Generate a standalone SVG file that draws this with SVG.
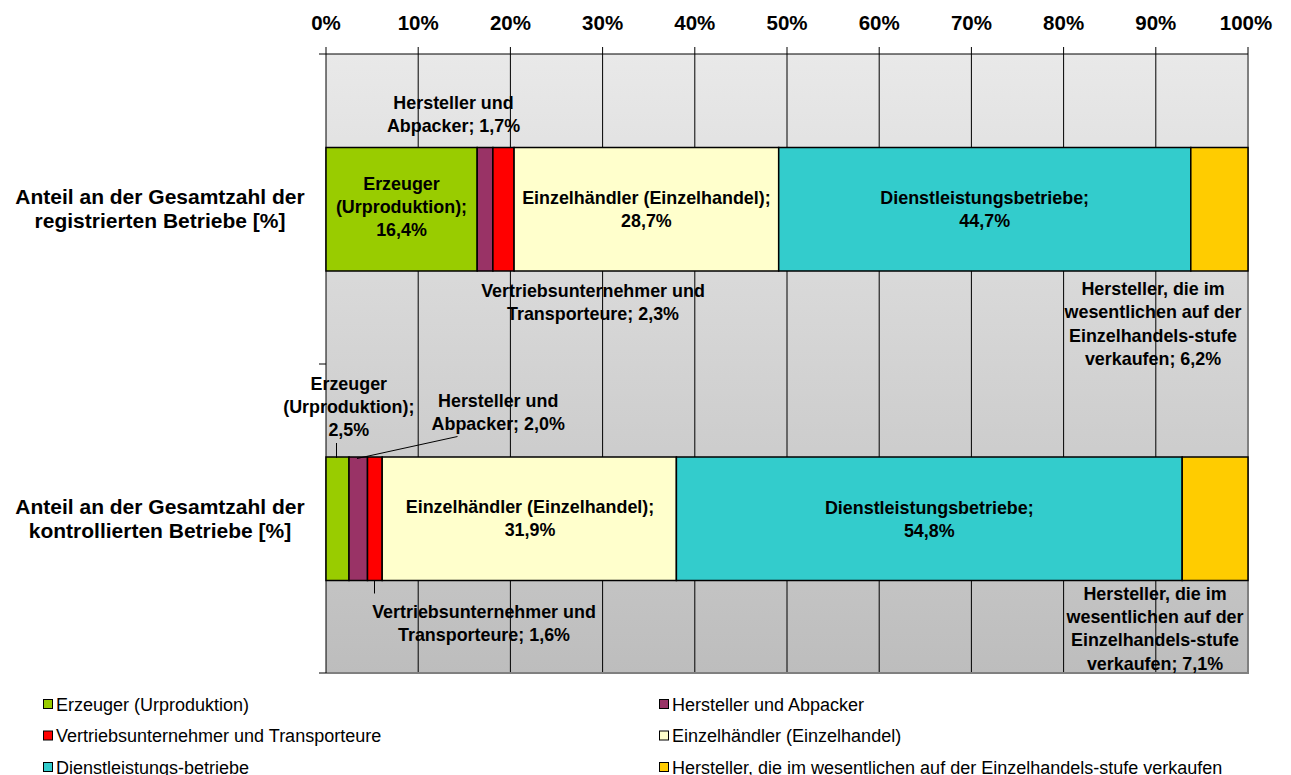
<svg xmlns="http://www.w3.org/2000/svg" width="1291" height="775" viewBox="0 0 1291 775">
<defs>
<linearGradient id="bg" x1="0" y1="0" x2="0" y2="1">
<stop offset="0" stop-color="#e9e9e9"/>
<stop offset="1" stop-color="#bdbdbd"/>
</linearGradient>
</defs>
<style>
text{font-family:"Liberation Sans",Arial,sans-serif;fill:#000}
.tick{font-size:20.5px;font-weight:bold;text-anchor:middle}
.cat{font-size:21px;font-weight:bold;text-anchor:middle}
.lbl{font-size:17.9px;font-weight:bold;text-anchor:middle}
.leg{font-size:18px}
.grid{stroke:#000;stroke-width:1}
.seg{stroke:#000;stroke-width:1.5}
.lsq{stroke:#000;stroke-width:1}
.lead{stroke:#000;stroke-width:1;fill:none}
.g{fill:#99cc00}.p{fill:#993366}.r{fill:#ff0000}.y{fill:#ffffcc}.t{fill:#33cccc}.o{fill:#ffcc00}
</style>
<rect width="1291" height="775" fill="#fff"/>
<g id="plot">
<rect x="326" y="54" width="922" height="619" fill="url(#bg)"/>
<g id="gridlines">
<line class="grid" x1="418.2" y1="54" x2="418.2" y2="673"/>
<line class="grid" x1="510.4" y1="54" x2="510.4" y2="673"/>
<line class="grid" x1="602.6" y1="54" x2="602.6" y2="673"/>
<line class="grid" x1="694.8" y1="54" x2="694.8" y2="673"/>
<line class="grid" x1="787" y1="54" x2="787" y2="673"/>
<line class="grid" x1="879.2" y1="54" x2="879.2" y2="673"/>
<line class="grid" x1="971.4" y1="54" x2="971.4" y2="673"/>
<line class="grid" x1="1063.6" y1="54" x2="1063.6" y2="673"/>
<line class="grid" x1="1155.8" y1="54" x2="1155.8" y2="673"/>
</g>
<polyline points="1248,54 1248,673 326,673" fill="none" stroke="#808080" stroke-width="2"/>
</g>
<g id="axes" stroke="#000" stroke-width="1">
<line x1="319" y1="54" x2="1248" y2="54"/>
<line x1="326" y1="54" x2="326" y2="673"/>
<line x1="319" y1="364" x2="326" y2="364"/>
<line x1="319" y1="673" x2="326" y2="673"/>
<line x1="326" y1="47" x2="326" y2="54"/>
<line x1="418.2" y1="47" x2="418.2" y2="54"/>
<line x1="510.4" y1="47" x2="510.4" y2="54"/>
<line x1="602.6" y1="47" x2="602.6" y2="54"/>
<line x1="694.8" y1="47" x2="694.8" y2="54"/>
<line x1="787" y1="47" x2="787" y2="54"/>
<line x1="879.2" y1="47" x2="879.2" y2="54"/>
<line x1="971.4" y1="47" x2="971.4" y2="54"/>
<line x1="1063.6" y1="47" x2="1063.6" y2="54"/>
<line x1="1155.8" y1="47" x2="1155.8" y2="54"/>
<line x1="1248" y1="47" x2="1248" y2="54"/>
</g>
<g id="tick-labels">
<text class="tick" x="326" y="29.5">0%</text>
<text class="tick" x="418.2" y="29.5">10%</text>
<text class="tick" x="510.4" y="29.5">20%</text>
<text class="tick" x="602.6" y="29.5">30%</text>
<text class="tick" x="694.8" y="29.5">40%</text>
<text class="tick" x="787" y="29.5">50%</text>
<text class="tick" x="879.2" y="29.5">60%</text>
<text class="tick" x="971.4" y="29.5">70%</text>
<text class="tick" x="1063.6" y="29.5">80%</text>
<text class="tick" x="1155.8" y="29.5">90%</text>
<text class="tick" x="1246" y="29.5">100%</text>
</g>
<g id="category-registriert">
<text class="cat" x="160" y="203.5">Anteil an der Gesamtzahl der</text>
<text class="cat" x="160" y="227.5">registrierten Betriebe [%]</text>
</g>
<g id="category-kontrolliert">
<text class="cat" x="160" y="513.5">Anteil an der Gesamtzahl der</text>
<text class="cat" x="160" y="537.5">kontrollierten Betriebe [%]</text>
</g>
<g id="bar-registriert">
<rect class="seg g" x="326" y="147.5" width="151.2" height="123.5"/>
<rect class="seg p" x="477.2" y="147.5" width="15.7" height="123.5"/>
<rect class="seg r" x="492.9" y="147.5" width="21.2" height="123.5"/>
<rect class="seg y" x="514.1" y="147.5" width="264.6" height="123.5"/>
<rect class="seg t" x="778.7" y="147.5" width="412.1" height="123.5"/>
<rect class="seg o" x="1190.8" y="147.5" width="57.2" height="123.5"/>
</g>
<g id="bar-kontrolliert">
<rect class="seg g" x="326" y="457" width="23" height="123.5"/>
<rect class="seg p" x="349" y="457" width="18.5" height="123.5"/>
<rect class="seg r" x="367.5" y="457" width="14.7" height="123.5"/>
<rect class="seg y" x="382.2" y="457" width="294.2" height="123.5"/>
<rect class="seg t" x="676.4" y="457" width="505.8" height="123.5"/>
<rect class="seg o" x="1182.2" y="457" width="65.8" height="123.5"/>
</g>
<g id="connectors">
<line class="lead" x1="336.5" y1="443" x2="336.5" y2="458"/>
<polyline class="lead" points="457.5,436.5 357,458.5"/>
<line class="lead" x1="374.5" y1="581" x2="374.5" y2="593.5"/>
</g>
<g id="labels-registriert">
<text class="lbl"><tspan x="453.5" y="108.5">Hersteller und</tspan><tspan x="453.5" y="131.5">Abpacker; 1,7%</tspan></text>
<text class="lbl"><tspan x="401.5" y="189.5">Erzeuger</tspan><tspan x="401.5" y="212.5">(Urproduktion);</tspan><tspan x="401.5" y="235.5">16,4%</tspan></text>
<text class="lbl"><tspan x="646.4" y="204">Einzelhändler (Einzelhandel);</tspan><tspan x="646.4" y="227">28,7%</tspan></text>
<text class="lbl"><tspan x="984.7" y="204">Dienstleistungsbetriebe;</tspan><tspan x="984.7" y="227">44,7%</tspan></text>
<text class="lbl"><tspan x="593" y="296.5">Vertriebsunternehmer und</tspan><tspan x="593" y="319.5">Transporteure; 2,3%</tspan></text>
<text class="lbl"><tspan x="1153" y="295">Hersteller, die im</tspan><tspan x="1153" y="318.3">wesentlichen auf der</tspan><tspan x="1153" y="341.6">Einzelhandels-stufe</tspan><tspan x="1153" y="364.9">verkaufen; 6,2%</tspan></text>
</g>
<g id="labels-kontrolliert">
<text class="lbl"><tspan x="348.8" y="389.5">Erzeuger</tspan><tspan x="348.8" y="412.7">(Urproduktion);</tspan><tspan x="348.8" y="436">2,5%</tspan></text>
<text class="lbl"><tspan x="498.2" y="406.7">Hersteller und</tspan><tspan x="498.2" y="429.5">Abpacker; 2,0%</tspan></text>
<text class="lbl"><tspan x="530" y="512.7">Einzelhändler (Einzelhandel);</tspan><tspan x="530" y="535.7">31,9%</tspan></text>
<text class="lbl"><tspan x="929.3" y="514">Dienstleistungsbetriebe;</tspan><tspan x="929.3" y="537">54,8%</tspan></text>
<text class="lbl"><tspan x="484" y="617.7">Vertriebsunternehmer und</tspan><tspan x="484" y="640.7">Transporteure; 1,6%</tspan></text>
<text class="lbl"><tspan x="1155" y="600">Hersteller, die im</tspan><tspan x="1155" y="623.2">wesentlichen auf der</tspan><tspan x="1155" y="646.4">Einzelhandels-stufe</tspan><tspan x="1155" y="669.6">verkaufen; 7,1%</tspan></text>
</g>
<g id="legend">
<rect class="lsq g" x="43.5" y="699.5" width="9" height="9"/>
<text class="leg" x="56" y="710.5">Erzeuger (Urproduktion)</text>
<rect class="lsq r" x="43.5" y="731" width="9" height="9"/>
<text class="leg" x="56" y="742">Vertriebsunternehmer und Transporteure</text>
<rect class="lsq t" x="43.5" y="762.5" width="9" height="9"/>
<text class="leg" x="56" y="773.5">Dienstleistungs-betriebe</text>
<rect class="lsq p" x="659.5" y="699.5" width="9" height="9"/>
<text class="leg" x="672" y="710.5">Hersteller und Abpacker</text>
<rect class="lsq y" x="659.5" y="731" width="9" height="9"/>
<text class="leg" x="672" y="742">Einzelhändler (Einzelhandel)</text>
<rect class="lsq o" x="659.5" y="762.5" width="9" height="9"/>
<text class="leg" x="672" y="773.5">Hersteller, die im wesentlichen auf der Einzelhandels-stufe verkaufen</text>
</g>
</svg>
